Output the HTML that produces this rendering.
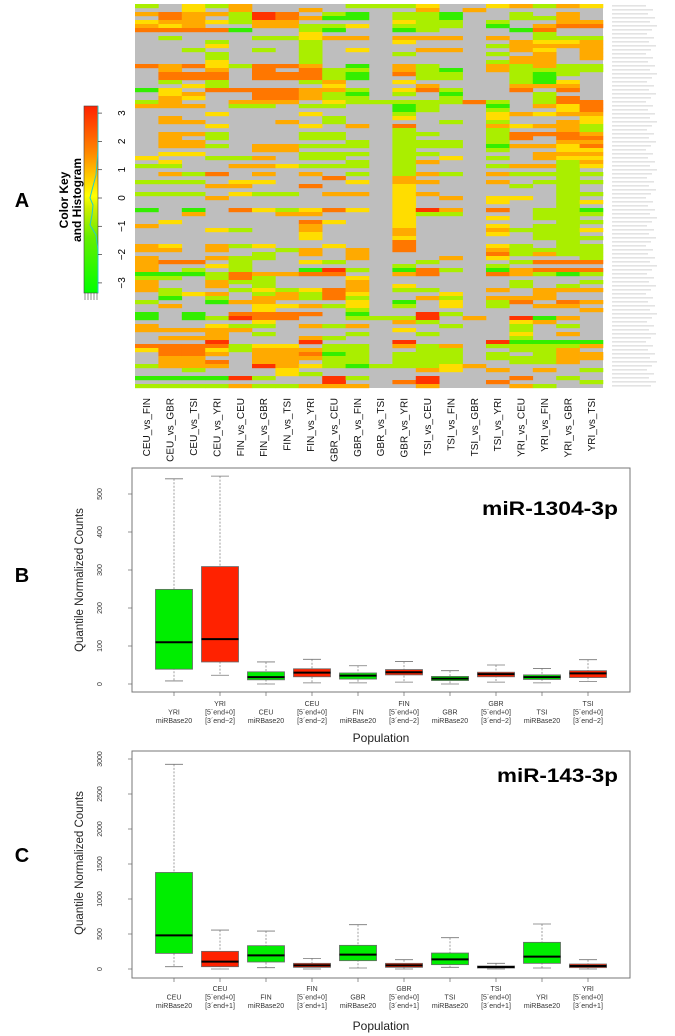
<!DOCTYPE html>
<html><head><meta charset="utf-8"><style>
html,body{margin:0;padding:0;background:#fff;width:675px;height:1036px;overflow:hidden}
svg{display:block;font-family:"Liberation Sans",sans-serif}
</style></head><body>
<svg id="fig" width="675" height="1036" viewBox="0 0 675 1036">
<text x="22" y="207" font-size="20" font-weight="bold" text-anchor="middle">A</text>
<text x="22" y="582" font-size="20" font-weight="bold" text-anchor="middle">B</text>
<text x="22" y="862" font-size="20" font-weight="bold" text-anchor="middle">C</text>
<defs><linearGradient id="kg" x1="0" y1="1" x2="0" y2="0">
<stop offset="0" stop-color="#00ff00"/><stop offset="0.3" stop-color="#66ee00"/><stop offset="0.45" stop-color="#ccee00"/><stop offset="0.52" stop-color="#ffff00"/><stop offset="0.62" stop-color="#ffcc00"/><stop offset="0.75" stop-color="#ff8800"/><stop offset="1" stop-color="#ff2200"/></linearGradient></defs>
<g>
<rect x="84" y="106" width="14" height="187" fill="url(#kg)" stroke="#444" stroke-width="0.6"/>
<polyline points="98,106 98,150 96,175 92,190 90,198 93,205 92,215 90,225 96,235 98,250 98,293" fill="none" stroke="#22cccc" stroke-width="1"/>
<g stroke="#444" stroke-width="0.6"><line x1="85" y1="293" x2="85" y2="300"/><line x1="88" y1="293" x2="88" y2="300"/><line x1="91" y1="293" x2="91" y2="300"/><line x1="94" y1="293" x2="94" y2="300"/><line x1="97" y1="293" x2="97" y2="300"/></g>
<text transform="translate(68,200) rotate(-90)" font-size="12" font-weight="bold" text-anchor="middle">Color Key</text>
<text transform="translate(81,200) rotate(-90)" font-size="12" font-weight="bold" text-anchor="middle">and Histogram</text>
<g id="keyticks"></g>
</g>
<g id="heat"></g>
<g id="rowlabels"></g>
<g id="collabels"></g>
<g id="plotB"></g>
<g id="plotC"></g>
</svg>
<script>
const NS="http://www.w3.org/2000/svg";
function mk(tag,attrs,parent,txt){const e=document.createElementNS(NS,tag);for(const k in attrs)e.setAttribute(k,attrs[k]);if(txt!==undefined)e.textContent=txt;parent.appendChild(e);return e;}

// ---- Heatmap data ----
const comparisons=["CEU_vs_FIN","CEU_vs_GBR","CEU_vs_TSI","CEU_vs_YRI","FIN_vs_CEU","FIN_vs_GBR","FIN_vs_TSI","FIN_vs_YRI","GBR_vs_CEU","GBR_vs_FIN","GBR_vs_TSI","GBR_vs_YRI","TSI_vs_CEU","TSI_vs_FIN","TSI_vs_GBR","TSI_vs_YRI","YRI_vs_CEU","YRI_vs_FIN","YRI_vs_GBR","YRI_vs_TSI"];
const keyTicks=[-3,-2,-1,0,1,2,3];
const cellCodes=[
"0l 2o 4y 5o 6d 15d 21g 24l 25o 38y 40l 44l 47l 51g 55o 60o 61o 63-66o 67g 68l 69o 70o 71o 74l 77g 78g 80o 81o 85d 86y 90l 93g 95l",
"2-3d 4o 5y 6d 8l 15o 16o 17d 18d 19l 21-22y 23-24o 25o 28o 29o 32o 33o 34o 35o 37y 39y 40l 42o 44l 47l 54y 60y 61o 64d 67g 68l 71l 72l 73g 75o 81o 83o 85-86d 87d 88-90o 93g 95l",
"0-1y 2-5o 6d 11l 15d 17d 18d 20y 22o 23y 25o 29o 32o 34o 35o 37y 42l 44l 47l 51g 52o 64d 66l 67g 72y 77g 78g 81o 83o 85-86d 87d 88-90o 91l 93g 95l",
"0l 2o 4y 6d 9l 10y 12l 13l 14-15y 16o 17d 18d 19l 20l 21d 27y 30y 32l 33l 35l 38l 42d 45o 48o 56y 60o 61o 63o 65y 67l 68l 69o 70o 72o 73l 74g 78l 80y 81-83o 84r 85d 86y 87o 89d 90o 93g 95l",
"0-1o 2l 3l 4l 6g 15l 21d 24o 25l 38l 40o 44y 45o 47y 51d 56l 60l 63-64l 65-66l 67-68d 69l 71l 74o 77d 78r 80l 81o 85l 86l 93r 95o",
"2-3r 4o 5o 8l 11l 15d 16d 17d 18d 21d 22-23d 24o 25l 35o 36o 38o 40o 42o 44y 47l 51y 60y 62l 63l 67o 68-70l 71y 72l 73o 74o 75-76y 77-78d 79y 80l 82l 85y 86o 87o 88-89o 90r 93l 95l",
"2-3d 4o 5o 8l 15d 17d 18d 21d 22-23d 24o 29o 35o 36o 40y 47l 51l 52o 61l 67o 71l 72o 73o 75y 77d 78d 85y 86o 87o 88-90o 91-92y 95l",
"1o 3o 5l 6l 7-8y 9-14l 15o 16-18d 19l 21o 22-23o 25l 27y 30y 32l 33l 35l 37l 38l 40l 42o 45d 51y 52o 54d 55o 56o 57y 58y 61o 62o 64y 66g 67d 71y 72l 73l 75o 77d 80o 83o 84r 86o 87d 88o 90y 92l 95o",
"2l 3g 5l 6g 8o 16l 17l 18l 19o 20y 21o 22l 23l 24y 25l 28l 29l 32l 33l 35l 37l 38l 40l 43d 47o 51d 54y 60y 64l 66r 67d 71d 72d 73d 75l 80l 83l 85-86l 87g 88-90l 93-94r 95o",
"0l 2-3g 5y 8o 11y 15g 16l 17g 18g 21l 22g 23l 24l 30o 34l 35l 37l 39l 40l 42l 44y 47o 51y 61o 62o 63o 66l 68y 69-71o 72y 73l 74-75y 76l 77g 78l 80o 82l 85l 86-89l 90g 93l 95o",
"0l 24l 78l 90l",
"0l 2-3l 4y 5l 6g 8o 9y 12l 15o 16o 17d 19y 21y 22l 24l 25-26g 27l 28y 30d 31-36l 37-42l 43-44o 45-55y 56-57o 58y 59-61d 65l 66g 67o 70y 71l 74g 75l 78l 79o 81y 84r 85o 87-90l 94d",
"0y 1o 2-6l 8o 11o 15l 16l 17l 18l 20o 21d 24l 25-26l 32l 34l 35l 37l 39o 42o 44o 47o 51r 52l 64l 66d 67d 71l 73o 77r 78r 79l 82l 85-90l 91o 93-94r 95o",
"2-3g 4l 5l 8o 11o 16g 17l 18l 21l 22g 23l 24l 29l 34l 35l 38y 42l 48o 51o 52l 63o 66l 72y 73l 74-75y 77l 80l 85o 86-89l 90-91y",
"1o 24d 78o 90o",
"0y 4l 5g 8o 10l 12l 14l 15o 16o 24l 25g 26l 27-28y 29l 30o 31-34l 35g 36l 38l 40l 42o 44o 48-49y 51d 53y 55y 56o 57y 60y 61o 62d 63y 65l 66g 67d 71o 73o 74l 75l 84r 85l 87l 88l 91o 94d",
"0o 2l 3l 6g 9o 10o 11o 13o 14o 15l 16l 17l 18l 19l 20o 21d 27o 30y 32d 33d 35o 40o 42l 45l 48y 56l 60l 61l 62l 64l 66o 67o 69l 70l 73o 74d 78r 79y 80-81l 82y 83l 84g 85-86l 88l 89l 93d 95o",
"0l 3l 5o 6d 7-8l 9y 10o 11y 12-15o 16l 17-19g 20o 22l 23l 24l 25o 27y 30o 32d 35o 37o 38o 40o 42l 44l 51l 52l 53l 55l 56l 57l 58l 61l 62o 64d 66d 67l 71o 72o 73o 75o 78g 79o 84g 85-89l 91o 95l",
"0o 2-3o 4o 5d 8l 9y 10o 15l 16l 17l 19y 20o 21d 23-24d 25y 26y 27o 29-31o 32-33d 34o 35-36y 37o 38y 39-62l 64d 66d 67g 70l 71o 74d 75o 78o 80l 82o 84g 85l 86o 87o 88o 89o 93l",
"0y 4o 5d 8l 9-13o 15l 16l 24-26d 27o 28-29y 30-31l 32o 33d 34o 35d 36y 37o 38y 39o 40y 42l 44l 47l 49y 51g 52l 54l 56y 58l 60-63l 64d 66d 67l 69l 71o 74o 76o 84g 85o 87o 88o 91l 94l"
];
const palette={g:"#33ee00",l:"#aaee00",y:"#ffdd00",o:"#ffaa00",d:"#ff7700",r:"#ff3300"};
const NROWS=96;
const HX0=135,HX1=603,HY0=4,HY1=388;
const colW=(HX1-HX0)/comparisons.length, rowH=(HY1-HY0)/NROWS;
const heat=document.getElementById('heat');
const bg=mk('rect',{x:HX0,y:HY0,width:HX1-HX0,height:HY1-HY0,fill:"#bebebe"},heat);


cellCodes.forEach((spec,ci)=>{
  spec.split(' ').forEach(tok=>{
    const code=tok.slice(-1), rng=tok.slice(0,-1).split('-').map(Number);
    const a=rng[0], b=rng.length>1?rng[1]:rng[0];
    for(let r=a;r<=b;r++){
      const c=mk('rect',{x:HX0+ci*colW,y:HY0+r*rowH,width:colW+0.3,height:rowH+0.2,fill:palette[code]},heat);
      
      
    }
  });
});
const cl=document.getElementById('collabels');
comparisons.forEach((n,i)=>{
  const cx=HX0+(i+0.5)*colW+3.5;
  const t=mk('text',{transform:`translate(${cx},398) rotate(-90)`,'font-size':10,'text-anchor':'end',fill:'#111'},cl,n);
  
  
});
const rl=document.getElementById('rowlabels');
for(let r=0;r<NROWS;r++){
  const w=34+((r*7)%12);
  const l=mk('rect',{x:612,y:HY0+r*rowH+1.2,width:w,height:1.3,fill:'#dcdcdc'},rl);
  
  
}
const kt=document.getElementById('keyticks');
const keyY=v=>198-v*28.3;
keyTicks.forEach(v=>{
  mk('line',{x1:98,x2:102,y1:keyY(v),y2:keyY(v),stroke:'#333','stroke-width':0.7},kt);
  const t=mk('text',{transform:`translate(125,${keyY(v)}) rotate(-90)`,'font-size':10,'text-anchor':'middle'},kt,v<0?'\u2212'+(-v):String(v));
  
  
});

// ---- Boxplot B data ----
const bLabels=[["","YRI","miRBase20"],["YRI","[5\u00b4end+0]","[3\u00b4end\u22122]"],["","CEU","miRBase20"],["CEU","[5\u00b4end+0]","[3\u00b4end\u22122]"],["","FIN","miRBase20"],["FIN","[5\u00b4end+0]","[3\u00b4end\u22122]"],["","GBR","miRBase20"],["GBR","[5\u00b4end+0]","[3\u00b4end\u22122]"],["","TSI","miRBase20"],["TSI","[5\u00b4end+0]","[3\u00b4end\u22122]"]];
const bLow=[8,23,0,3,3,5,0,5,3,7];
const bQ1=[39,58,11,19,13,24,9,19,12,17];
const bMed=[110,118,18,30,22,31,14,26,18,28];
const bQ3=[249,309,32,40,29,38,20,31,24,35];
const bHigh=[540,547,58,65,48,59,35,50,41,64];
const bColors=["g","r","g","r","g","r","g","r","g","r"];
const bTicks=[0,100,200,300,400,500];
// ---- Boxplot C data ----
const cLabels=[["","CEU","miRBase20"],["CEU","[5\u00b4end+0]","[3\u00b4end+1]"],["","FIN","miRBase20"],["FIN","[5\u00b4end+0]","[3\u00b4end+1]"],["","GBR","miRBase20"],["GBR","[5\u00b4end+0]","[3\u00b4end+1]"],["","TSI","miRBase20"],["TSI","[5\u00b4end+0]","[3\u00b4end+1]"],["","YRI","miRBase20"],["YRI","[5\u00b4end+0]","[3\u00b4end+1]"]];
const cLow=[33,0,19,0,14,0,24,0,14,0];
const cQ1=[223,33,100,24,119,24,62,14,81,19];
const cMed=[480,105,195,52,205,52,138,29,176,43];
const cQ3=[1379,252,333,81,338,81,228,43,381,71];
const cHigh=[2924,556,542,152,633,133,447,81,643,133];
const cColors=["g","r","g","r","g","r","g","r","g","r"];
const cTicks=[0,500,1000,1500,2000,2500,3000];

const fillMap={g:"#00ee00",r:"#ff2200"};
function boxplot(gid,o){
  const g=document.getElementById(gid);
  const X0=132,X1=630,step=46,c0=174,bw=37;
  const yS=v=>o.y0-(v-0)*(o.y0-o.yTop)/o.vTop;
  const xS=i=>c0+i*step;
  const fr=mk('rect',{x:X0,y:o.top,width:X1-X0,height:o.bot-o.top,fill:'none',stroke:'#777','stroke-width':1},g);
  
  
  o.ticks.forEach(v=>{
    mk('line',{x1:X0-4,x2:X0,y1:yS(v),y2:yS(v),stroke:'#666','stroke-width':0.7},g);
    const t=mk('text',{transform:`translate(102,${yS(v)}) rotate(-90)`,'font-size':7,'text-anchor':'middle',fill:'#333'},g,String(v));
    
    
  });
  const yt=mk('text',{transform:`translate(83,${o.yTitleY}) rotate(-90)`,'font-size':11.5,'text-anchor':'middle',fill:'#222'},g,'Quantile Normalized Counts');
  
  
  const xt=mk('text',{x:381,y:o.popY,'font-size':12,'text-anchor':'middle',fill:'#222'},g,'Population');
  
  
  const tt=mk('text',{x:o.titleX,y:o.titleY,'font-size':19,'font-weight':'bold',textLength:o.titleW,lengthAdjust:'spacingAndGlyphs'},g,o.title);
  
  
  o.labels.forEach((lab,i)=>{
    const x=xS(i);
    mk('line',{x1:x,x2:x,y1:o.bot,y2:o.bot+4,stroke:'#666','stroke-width':0.7},g);
    lab.forEach((s,k)=>{ if(!s)return;
      const t=mk('text',{x:x,y:o.labY+k*8.5,'font-size':7,'text-anchor':'middle',fill:'#333'},g,s);
      
      
    });
    const wh=mk('line',{x1:x,x2:x,y1:yS(o.high[i]),y2:yS(o.low[i]),stroke:'#888','stroke-width':0.8,'stroke-dasharray':'2,1.5'},g);
    
    
    [o.high[i],o.low[i]].forEach(v=>{
      const cap=mk('line',{x1:x-9,x2:x+9,y1:yS(v),y2:yS(v),stroke:'#777','stroke-width':0.8},g);
      
      
    });
    const b=mk('rect',{x:x-bw/2,y:yS(o.q3[i]),width:bw,height:yS(o.q1[i])-yS(o.q3[i]),fill:fillMap[o.colors[i]],stroke:'#666','stroke-width':0.8},g);
    
    
    const m=mk('line',{x1:x-bw/2,x2:x+bw/2,y1:yS(o.med[i]),y2:yS(o.med[i]),stroke:'#000','stroke-width':2},g);
    
    
  });
}
boxplot('plotB',{top:468,bot:692,y0:684,yTop:494,vTop:500,ticks:bTicks,labels:bLabels,low:bLow,q1:bQ1,med:bMed,q3:bQ3,high:bHigh,colors:bColors,labY:706,popY:742,yTitleY:580,title:'miR-1304-3p',titleX:482,titleY:515,titleW:136});
boxplot('plotC',{top:751,bot:978,y0:969,yTop:759,vTop:3000,ticks:cTicks,labels:cLabels,low:cLow,q1:cQ1,med:cMed,q3:cQ3,high:cHigh,colors:cColors,labY:991,popY:1030,yTitleY:863,title:'miR-143-3p',titleX:497,titleY:782,titleW:121});
</script>
</body></html>
